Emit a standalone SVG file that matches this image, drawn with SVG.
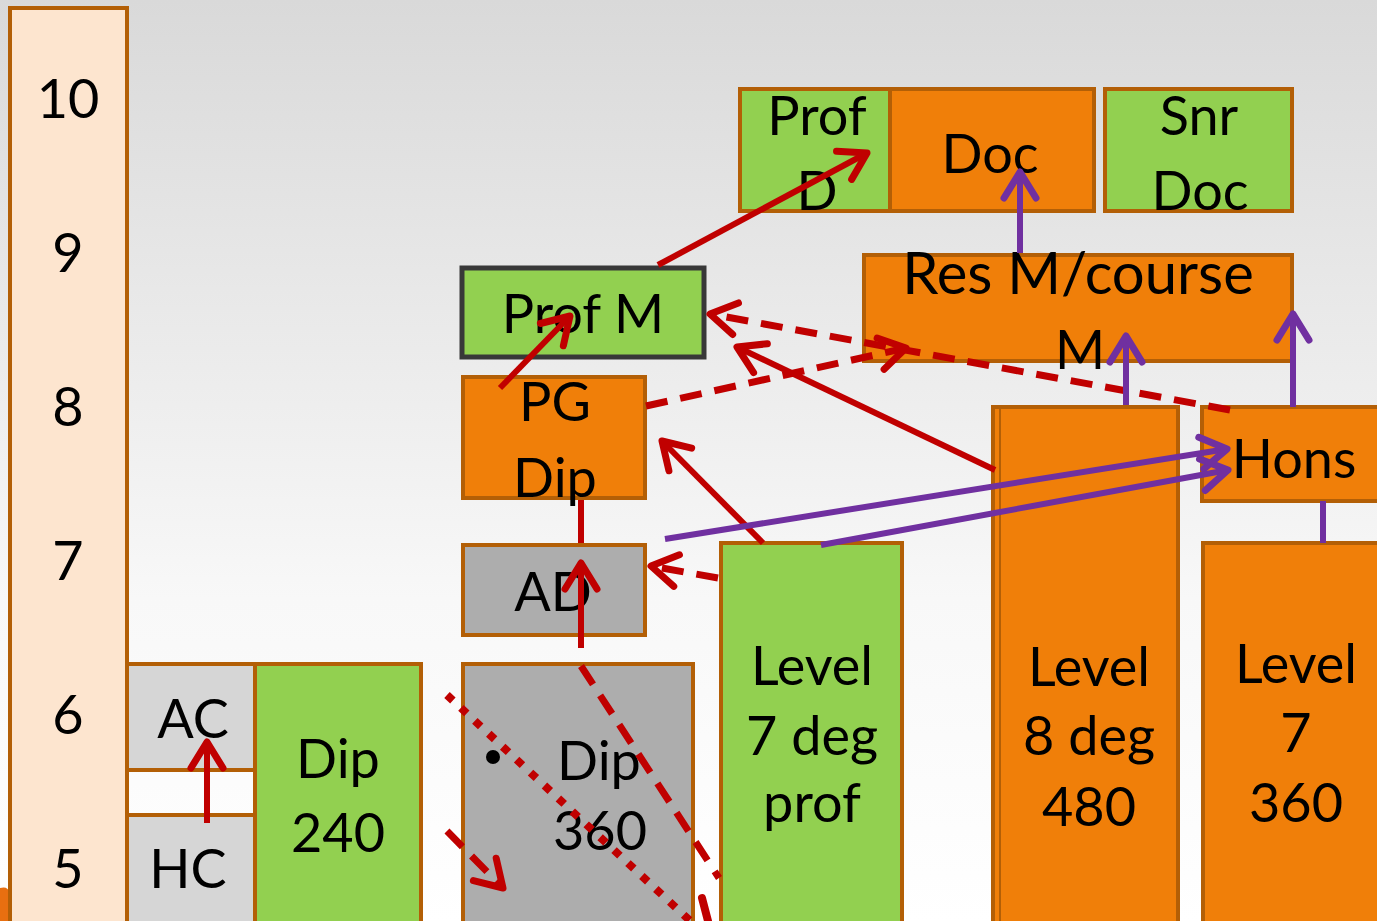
<svg xmlns="http://www.w3.org/2000/svg" width="1377" height="921" viewBox="0 0 1377 921">
<defs>
<linearGradient id="bg" x1="0" y1="0" x2="0" y2="1">
<stop offset="0" stop-color="#d9d9d9"/>
<stop offset="0.65" stop-color="#f8f8f8"/>
<stop offset="1" stop-color="#ffffff"/>
</linearGradient>
<marker id="ar" viewBox="-34 -22 44 44" markerWidth="44" markerHeight="44" refX="0" refY="0" orient="auto" markerUnits="userSpaceOnUse">
<path d="M-26,-16 L0,0 L-26,16" fill="none" stroke="#c00000" stroke-width="7" stroke-linecap="round" stroke-linejoin="round"/>
</marker>
<marker id="ap" viewBox="-34 -22 44 44" markerWidth="44" markerHeight="44" refX="0" refY="0" orient="auto" markerUnits="userSpaceOnUse">
<path d="M-26,-16 L0,0 L-26,16" fill="none" stroke="#7030a0" stroke-width="7" stroke-linecap="round" stroke-linejoin="round"/>
</marker>
</defs>
<style>
.b{stroke:#b35f06;stroke-width:4}
.g{fill:#92d050}
.o{fill:#f07f09}
.lg{fill:#d6d6d6}
.dg{fill:#adadad}
.pe{fill:#fde5cf}
text{font-family:Lato,"Open Sans","Liberation Sans",sans-serif;font-size:54px;fill:#000;text-anchor:middle}
.r{stroke:#c00000;stroke-width:6;fill:none}
.d{stroke-width:7;stroke-dasharray:22 13}
.dot{stroke-width:8;stroke-dasharray:8 11}
.thick{stroke-width:8;stroke-linecap:round}
.p{stroke:#7030a0;stroke-width:6;fill:none}
</style>
<rect x="0" y="0" width="1377" height="921" fill="url(#bg)"/>
<path d="M0,888 Q8,886 9,892 L9,921 L0,921 Z" fill="#e86f10"/>

<g id="scale">
<rect class="b pe" x="10" y="8" width="117" height="920"/>
<text x="68" y="118">10</text>
<text x="68" y="272">9</text>
<text x="68" y="426">8</text>
<text x="68" y="580">7</text>
<text x="68" y="734">6</text>
<text x="68" y="888">5</text>
</g>

<g id="connectors-behind">
<line class="r" x1="581" y1="500" x2="581" y2="546"/>
</g>

<g id="ac"><rect class="b lg" x="127" y="664" width="128" height="106"/><text x="193" y="738">AC</text></g>
<g id="hc"><rect class="b lg" x="127" y="815" width="128" height="112"/><text x="188" y="888">HC</text></g>
<g id="dip240"><rect class="b g" x="255" y="664" width="166" height="263"/><text x="338" y="778">Dip</text><text x="338" y="852">240</text></g>
<g id="dip360"><rect class="b dg" x="463" y="664" width="230" height="263"/><circle cx="493" cy="757" r="7" fill="#000"/><text x="599" y="780">Dip</text><text x="600" y="850">360</text></g>
<g id="ad"><rect class="b dg" x="463" y="545" width="182" height="90"/><text x="553" y="611">AD</text></g>
<g id="pgdip"><rect class="b o" x="463" y="377" width="182" height="121"/><text x="555" y="421">PG</text><text x="555" y="497">Dip</text></g>
<g id="profm"><rect x="462" y="268" width="242" height="89" class="g" stroke="#383838" stroke-width="5"/><text x="583" y="333">Prof M</text></g>
<g id="profd"><rect class="b g" x="740" y="89" width="150" height="122"/><text x="817" y="135">Prof</text><text x="817" y="210">D</text></g>
<g id="doc"><rect class="b o" x="890" y="89" width="204" height="122"/><text x="990" y="173">Doc</text></g>
<g id="snrdoc"><rect class="b g" x="1105" y="89" width="187" height="122"/><text x="1199" y="135">Snr</text><text x="1200" y="210">Doc</text></g>
<g id="resm"><rect class="b o" x="864" y="255" width="428" height="106"/><text x="1078" y="294" style="font-size:58px">Res M/course</text><text x="1080" y="369">M</text></g>
<g id="l7prof"><rect class="b g" x="721" y="543" width="181" height="384"/><text x="812" y="685">Level</text><text x="812" y="755">7 deg</text><text x="812" y="822">prof</text></g>
<g id="l8deg"><rect class="b o" x="993" y="407" width="185" height="520"/><line x1="1000" y1="409" x2="1000" y2="921" stroke="#b35f06" stroke-width="2"/><text x="1089" y="686">Level</text><text x="1089" y="755">8 deg</text><text x="1089" y="826">480</text></g>
<g id="hons"><rect class="b o" x="1202" y="407" width="190" height="94"/><text x="1294" y="478">Hons</text></g>
<g id="l7360"><rect class="b o" x="1203" y="543" width="190" height="384"/><text x="1296" y="683">Level</text><text x="1296" y="752">7</text><text x="1296" y="822">360</text></g>

<g id="connectors">
<line class="r" x1="207" y1="823" x2="207" y2="742" marker-end="url(#ar)"/>
<line class="r" x1="581" y1="648" x2="581" y2="563" marker-end="url(#ar)"/>
<line class="r" x1="500" y1="388" x2="570" y2="316" marker-end="url(#ar)"/>
<line class="r" x1="658" y1="265" x2="867" y2="153" marker-end="url(#ar)"/>
<line class="r" x1="763" y1="543" x2="662" y2="441" marker-end="url(#ar)"/>
<line class="r" x1="995" y1="470" x2="737" y2="347" marker-end="url(#ar)"/>
<line class="r d" x1="646" y1="406" x2="906" y2="348" marker-end="url(#ar)"/>
<line class="r d" x1="1230" y1="410" x2="710" y2="314" marker-end="url(#ar)"/>
<line class="r d" x1="718" y1="578" x2="651" y2="566" marker-end="url(#ar)"/>
<line class="r d" x1="581" y1="666" x2="719" y2="878"/>
<line class="r dot" x1="447" y1="695" x2="700" y2="930"/>
<line class="r d" x1="447" y1="831" x2="503" y2="888" marker-end="url(#ar)"/>
<line class="r thick" x1="702" y1="898" x2="708" y2="921"/>
<line class="p" x1="1020" y1="253" x2="1020" y2="172" marker-end="url(#ap)"/>
<line class="p" x1="1126" y1="405" x2="1126" y2="336" marker-end="url(#ap)"/>
<line class="p" x1="1293" y1="407" x2="1293" y2="314" marker-end="url(#ap)"/>
<line class="p" x1="1323" y1="501" x2="1323" y2="543"/>
<line class="p" x1="665" y1="539" x2="1227" y2="449" marker-end="url(#ap)"/>
<line class="p" x1="821" y1="545" x2="1228" y2="470" marker-end="url(#ap)"/>
</g>
</svg>
